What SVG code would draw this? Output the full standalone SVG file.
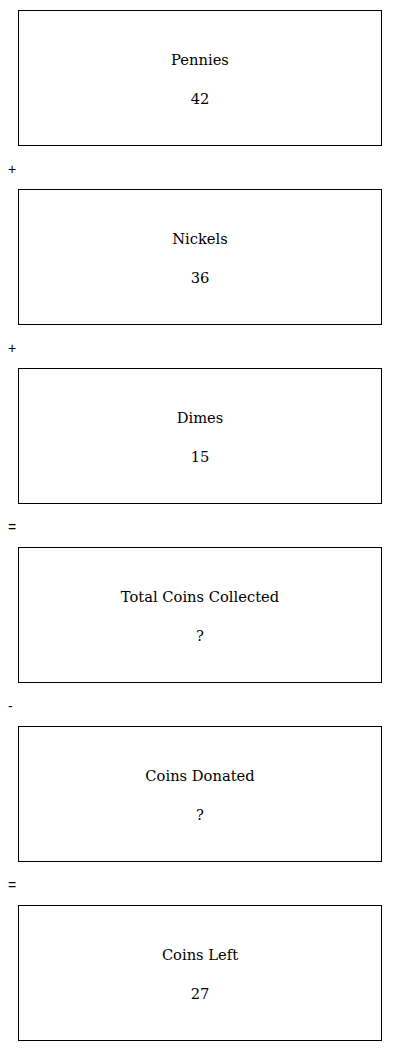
<svg xmlns="http://www.w3.org/2000/svg" width="400" height="1051" viewBox="0 0 400 1051">
<style>
.box{fill:#fff;stroke:#000;stroke-width:1}
.t{font-family:"DejaVu Serif","Liberation Serif",serif;font-size:14.7px;text-anchor:middle;fill:#000}
.op{font-family:"Liberation Sans",Arial,sans-serif;font-size:14px;fill:#000}
</style>
<rect width="400" height="1051" fill="#fff"/>
<g id="n1"><rect class="box" x="18.5" y="10.5" width="363" height="135"/><text class="t" x="200" y="65">Pennies</text><text class="t" x="200" y="104">42</text></g>
<g id="n2"><rect class="box" x="18.5" y="189.5" width="363" height="135"/><text class="t" x="200" y="244">Nickels</text><text class="t" x="200" y="283">36</text></g>
<g id="n3"><rect class="box" x="18.5" y="368.5" width="363" height="135"/><text class="t" x="200" y="423">Dimes</text><text class="t" x="200" y="462">15</text></g>
<g id="n4"><rect class="box" x="18.5" y="547.5" width="363" height="135"/><text class="t" x="200" y="602">Total Coins Collected</text><text class="t" x="200" y="641">?</text></g>
<g id="n5"><rect class="box" x="18.5" y="726.5" width="363" height="135"/><text class="t" x="200" y="781">Coins Donated</text><text class="t" x="200" y="820">?</text></g>
<g id="n6"><rect class="box" x="18.5" y="905.5" width="363" height="135"/><text class="t" x="200" y="960">Coins Left</text><text class="t" x="200" y="999">27</text></g>
<g id="connectors">
<text class="op" x="8" y="174">+</text>
<text class="op" x="8" y="353">+</text>
<text class="op" x="8" y="532">=</text>
<text class="op" x="8" y="711">-</text>
<text class="op" x="8" y="890">=</text>
</g>
</svg>
